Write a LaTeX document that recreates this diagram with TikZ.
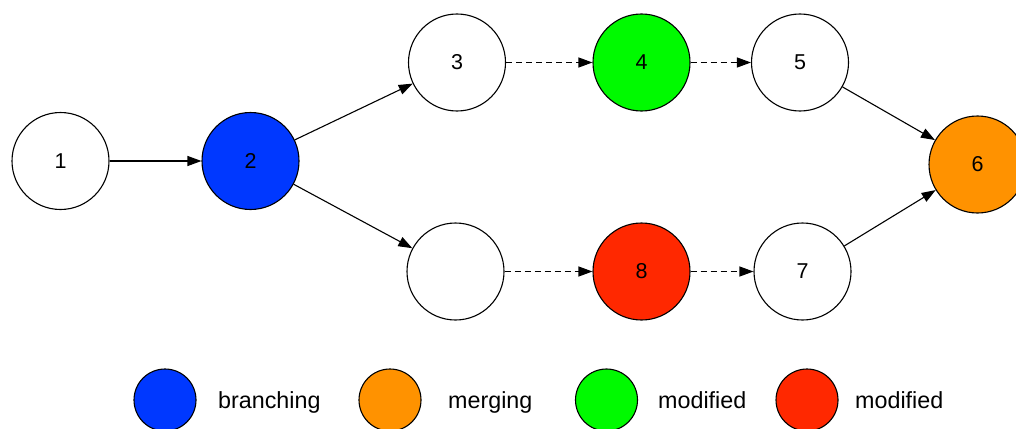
\documentclass[tikz,border=0pt]{standalone}
\usepackage{fontspec}
\setmainfont{Liberation Sans}
\usetikzlibrary{arrows.meta}
\definecolor{cblue}{RGB}{0,56,255}
\definecolor{cgreen}{RGB}{0,250,0}
\definecolor{cred}{RGB}{255,40,0}
\definecolor{corange}{RGB}{255,146,0}
\tikzset{
  vertex/.style={circle, draw=black, line width=1.1pt, minimum size=97pt, inner sep=0pt,
    font=\fontsize{21.5}{21.5}\selectfont},
  keydot/.style={circle, draw=black, line width=1.1pt, minimum size=62pt, inner sep=0pt},
  keytext/.style={anchor=base west, inner sep=0pt, font=\fontsize{23.3}{23.3}\selectfont},
  edge/.style={line width=1.1pt, -{Triangle[length=14pt,width=10pt]}},
  dashedge/.style={edge, dash pattern=on 6pt off 4pt}
}
\begin{document}
\begin{tikzpicture}[x=1pt,y=-1pt]
\useasboundingbox (0,0) rectangle (1016,428);
\begin{scope}
\clip (0,0) rectangle (1016,428);
% commit graph
\node[vertex] (n1) at (60.5,161) {1};
\node[vertex, fill=cblue] (n2) at (250.5,161) {2};
\node[vertex] (n3) at (457,62.5) {3};
\node[vertex, fill=cgreen] (n4) at (641.5,62.5) {4};
\node[vertex] (n5) at (800,62.5) {5};
\node[vertex, fill=corange] (n6) at (977.5,164.5) {6};
\node[vertex] (nb) at (455.5,271.5) {};
\node[vertex, fill=cred] (n8) at (641.5,271.5) {8};
\node[vertex] (n7) at (802.5,271.5) {7};

\draw[edge] (n1) -- (n2);
\draw[edge] (n2) -- (n3);
\draw[edge] (n2) -- (nb);
\draw[dashedge] (n3) -- (n4);
\draw[dashedge] (n4) -- (n5);
\draw[dashedge] (nb) -- (n8);
\draw[dashedge] (n8) -- (n7);
\draw[edge] (n5) -- (n6);
\draw[edge] (n7) -- (n6);

% legend
\node[keydot, fill=cblue] (k1) at (165,400) {};
\node[keytext] (t1) at (218,408.3) {branching};
\node[keydot, fill=corange] (k2) at (390,400) {};
\node[keytext] (t2) at (448,408.3) {merging};
\node[keydot, fill=cgreen] (k3) at (606.5,400) {};
\node[keytext] (t3) at (658,408.3) {modified};
\node[keydot, fill=cred] (k4) at (807,400) {};
\node[keytext] (t4) at (855,408.3) {modified};
\end{scope}
\end{tikzpicture}
\end{document}
